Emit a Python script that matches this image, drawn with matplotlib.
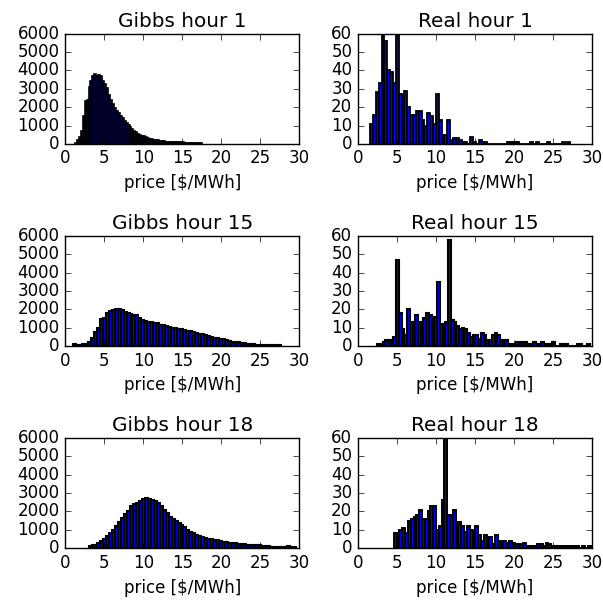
import numpy as np
import matplotlib
matplotlib.use("Agg")
import matplotlib.pyplot as plt

plt.style.use("classic")

# ---------------- data (bin counts) ----------------
titles = ["Gibbs hour 1", "Real hour 1", "Gibbs hour 15", "Real hour 15",
          "Gibbs hour 18", "Real hour 18"]
xlabel = "price [$/MWh]"

gibbs_h1_range = (1.25, 17.5)
gibbs_h1_counts = [50, 200, 400, 700, 1500, 2350, 2400, 3100, 3450, 3700,
                   3820, 3700, 3780, 3700, 3450, 3250, 3050, 2650, 2400, 2150,
                   1950, 1800, 1680, 1500, 1400, 1250, 1150, 1050, 900, 800,
                   720, 620, 560, 500, 450, 410, 380, 330, 290, 260,
                   230, 210, 190, 160, 145, 130, 120, 110, 110, 100,
                   95, 90, 90, 85, 80, 75, 70, 65, 60, 60,
                   55, 50, 50, 45, 40]

real_h1_range = (1.56, 27.2)
real_h1_counts = [11, 16, 28, 33, 60, 56, 40, 39, 33, 60,
                  27, 26, 29, 20, 16, 16, 18, 18, 13, 10,
                  17, 15, 11, 27, 13, 5, 5, 13, 2, 3,
                  3, 2, 1, 1, 0, 4, 1, 0, 2, 1,
                  1, 0, 0, 0, 0, 0, 0, 0, 1, 1,
                  1, 1, 0, 0, 0, 0, 1, 0, 1, 0,
                  0, 0, 1, 0, 0, 0, 0, 1, 0, 1]

gibbs_h15_range = (1.0, 27.7)
gibbs_h15_counts = [90, 30, 40, 120, 130, 200, 450, 750, 990, 1450,
                    1550, 1800, 1900, 1960, 1990, 1990, 1950, 1870, 1780, 1720,
                    1700, 1680, 1500, 1400, 1380, 1320, 1300, 1270, 1240, 1170,
                    1150, 1100, 1060, 1000, 960, 940, 900, 880, 830, 800,
                    750, 720, 660, 630, 580, 540, 500, 450, 430, 400,
                    370, 330, 290, 240, 215, 200, 180, 150, 110, 100,
                    90, 80, 60, 55, 55, 50, 45, 40, 30, 40]

real_h15_range = (2.45, 29.75)
real_h15_counts = [1, 1, 2, 3, 3, 3, 5, 47, 18, 9,
                   6, 20, 13, 12, 17, 13, 11, 15, 18, 17,
                   15, 16, 35, 12, 11, 13, 58, 14, 13, 11,
                   9, 10, 9, 7, 5, 6, 6, 4, 7, 6,
                   3, 3, 6, 7, 6, 3, 3, 3, 1, 1,
                   1, 2, 2, 2, 2, 1, 1, 2, 1, 1,
                   2, 1, 1, 1, 2, 0, 0, 1, 1, 1,
                   0, 0, 0, 1, 1, 0, 0, 1]

gibbs_h18_range = (3.0, 29.6)
gibbs_h18_counts = [90, 160, 170, 275, 400, 520, 640, 800, 1000, 1180,
                    1450, 1650, 1850, 2050, 2300, 2400, 2450, 2580, 2700, 2720,
                    2700, 2650, 2570, 2450, 2280, 2100, 1900, 1720, 1580, 1480,
                    1350, 1250, 1150, 1000, 900, 800, 720, 650, 580, 550,
                    520, 500, 470, 430, 410, 360, 340, 290, 270, 270,
                    250, 220, 200, 190, 185, 180, 180, 170, 130, 90,
                    90, 85, 80, 70, 55, 50, 45, 90, 80, 60]

real_h18_range = (4.6, 29.8)
real_h18_counts = [8, 4, 10, 11, 8, 15, 16, 17, 18, 21,
                   16, 16, 20, 23, 23, 10, 12, 26, 60, 18,
                   18, 21, 14, 14, 12, 9, 12, 10, 8, 12,
                   7, 4, 7, 4, 6, 2, 7, 4, 2, 4,
                   3, 4, 3, 2, 2, 2, 3, 1, 1, 1,
                   1, 2, 2, 1, 3, 2, 1, 1, 1, 1,
                   1, 1, 1, 1, 1, 1, 0, 1, 0, 1]

panels = [
    (gibbs_h1_range, gibbs_h1_counts, 6000, 1000, 1.2),
    (real_h1_range, real_h1_counts, 60, 10, 1.3),
    (gibbs_h15_range, gibbs_h15_counts, 6000, 1000, 1.5),
    (real_h15_range, real_h15_counts, 60, 10, 1.5),
    (gibbs_h18_range, gibbs_h18_counts, 6000, 1000, 1.5),
    (real_h18_range, real_h18_counts, 60, 10, 1.4),
]

# ---------------- figure ----------------
fig, axes = plt.subplots(3, 2, figsize=(6.03, 6.03), dpi=100)
fig.patch.set_facecolor("white")
fig.subplots_adjust(left=0.108, right=0.982, bottom=0.091, top=0.944,
                    wspace=0.25, hspace=0.836)

for ax, title, (rng, counts, ymax, ystep, lw) in zip(axes.flat, titles, panels):
    edges = np.linspace(rng[0], rng[1], len(counts) + 1)
    ax.bar(edges[:-1], counts, width=np.diff(edges), align="edge",
           color="b", edgecolor="k", linewidth=lw)
    ax.set_xlim(0, 30)
    ax.set_ylim(0, ymax)
    ax.set_xticks(np.arange(0, 31, 5))
    ax.set_yticks(np.arange(0, ymax + 1, ystep))
    ax.set_title(title, fontsize=14.4)
    ax.set_xlabel(xlabel, fontsize=12)
    ax.tick_params(labelsize=12)

fig.savefig("out.png", dpi=100, facecolor="white")
